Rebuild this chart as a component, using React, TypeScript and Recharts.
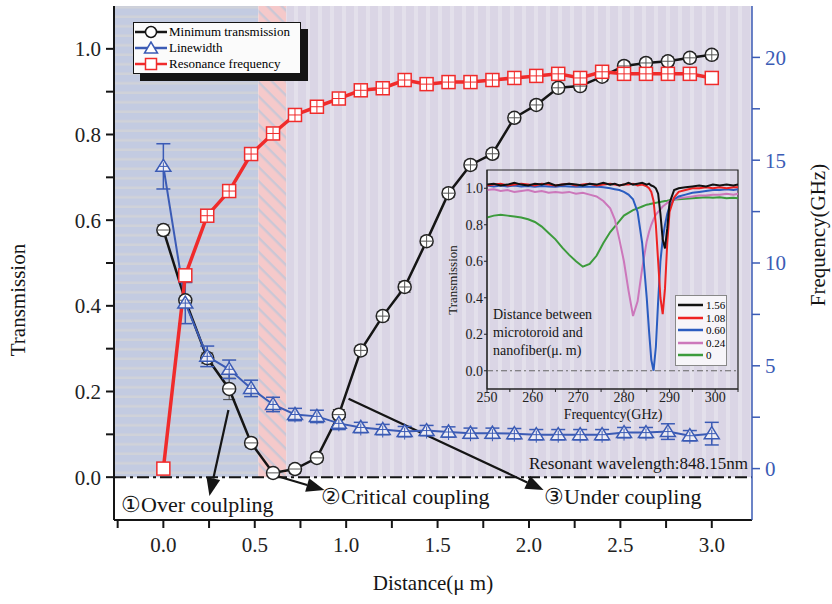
import React from 'react';
import {
  ComposedChart,
  LineChart,
  Line,
  XAxis,
  YAxis,
  ReferenceArea,
  ReferenceLine,
  ErrorBar,
} from 'recharts';

const SERIF = '"Liberation Serif", "DejaVu Serif", serif';
const INK = '#151515';
const BLUE = '#3b5bb5';
const RED = '#f02b2b';

/* main chart data */
const distance = [0, 0.12, 0.24, 0.36, 0.48, 0.6, 0.72, 0.84, 0.96, 1.08, 1.2, 1.32, 1.44, 1.56, 1.68, 1.8, 1.92, 2.04, 2.16, 2.28, 2.4, 2.52, 2.64, 2.76, 2.88, 3.0];
const minTransmission = [0.577, 0.413, 0.278, 0.206, 0.08, 0.01, 0.019, 0.045, 0.146, 0.296, 0.376, 0.444, 0.551, 0.663, 0.729, 0.755, 0.839, 0.869, 0.909, 0.913, 0.935, 0.96, 0.967, 0.971, 0.979, 0.986];
const transErr = [0.012, 0.01, 0.012, 0.025, 0.01, 0.008, 0.01, 0.01, 0.012, 0.01, 0.01, 0.012, 0.01, 0.01, 0.01, 0.01, 0.01, 0.01, 0.01, 0.01, 0.01, 0.01, 0.01, 0.01, 0.01, 0.01];
const linewidth = [14.7, 8.05, 5.46, 4.83, 3.9, 3.12, 2.63, 2.54, 2.2, 2.0, 1.9, 1.8, 1.85, 1.78, 1.72, 1.72, 1.7, 1.65, 1.65, 1.65, 1.65, 1.75, 1.75, 1.8, 1.6, 1.7];
const linewidthErr = [1.1, 1.0, 0.5, 0.45, 0.4, 0.35, 0.3, 0.3, 0.3, 0.25, 0.25, 0.25, 0.25, 0.25, 0.25, 0.25, 0.25, 0.25, 0.25, 0.25, 0.25, 0.25, 0.25, 0.38, 0.25, 0.55];
const resonanceFreq = [0, 9.4, 12.3, 13.5, 15.3, 16.3, 17.2, 17.6, 18.0, 18.4, 18.5, 18.9, 18.7, 18.8, 18.8, 18.9, 19.0, 19.1, 19.2, 19.0, 19.3, 19.2, 19.2, 19.2, 19.2, 19.0];

const xTicks = [-0.25, 0, 0.25, 0.5, 0.75, 1, 1.25, 1.5, 1.75, 2, 2.25, 2.5, 2.75, 3];
const xLabels = [0, 0.5, 1, 1.5, 2, 2.5, 3];
const leftTicks = [0, 0.1, 0.2, 0.3, 0.4, 0.5, 0.6, 0.7, 0.8, 0.9, 1.0];
const leftLabels = [0, 0.2, 0.4, 0.6, 0.8, 1.0];
const rightTicks = [0, 2.5, 5, 7.5, 10, 12.5, 15, 17.5, 20];
const rightLabels = [0, 5, 10, 15, 20];

// coupling regimes (distance, µm)
const regimeBounds = [-0.27, 0.52, 0.673, 3.22];
const regimeFills = ['url(#bgOver)', 'url(#bgCritical)', 'url(#bgUnder)'];

// annotation arrows in data coords (left axis)
const arrowFrom = [{ x: 0.356, y: 0.157 }, { x: 0.602, y: 0.005 }, { x: 1.013, y: 0.183 }];
const arrowTo = [{ x: 0.252, y: -0.044 }, { x: 0.881, y: -0.03 }, { x: 2.08, y: -0.03 }];

const rows = distance.map((d, i) => ({
  d,
  t: minTransmission[i],
  tErr: transErr[i],
  lw: linewidth[i],
  lwErr: linewidthErr[i],
  rf: resonanceFreq[i],
}));

/* inset data */
const freq = [250, 251.5, 253, 254.5, 256, 257.5, 259, 260.5, 262, 263.5, 265, 266.5, 268, 269.5, 271, 272.5, 274, 275.5, 277, 278, 279, 280, 281, 282, 283, 284, 285, 285.5, 286, 286.5, 287, 287.5, 288, 288.5, 289, 289.5, 290, 291, 292, 293.5, 295, 296.5, 298, 299.5, 301, 302.5, 304, 305];
const t156 = [1.02, 1.025, 1.015, 1.02, 1.03, 1.02, 1.015, 1.025, 1.02, 1.03, 1.015, 1.02, 1.025, 1.02, 1.015, 1.025, 1.02, 1.03, 1.02, 1.025, 1.015, 1.02, 1.03, 1.02, 1.025, 1.03, 1.02, 1.025, 1.015, 1.01, 1.0, 0.97, 0.86, 0.72, 0.67, 0.78, 0.92, 0.99, 1.0, 1.005, 1.01, 1.015, 1.01, 1.02, 1.015, 1.02, 1.015, 1.02];
const t108 = [1.015, 1.02, 1.025, 1.015, 1.02, 1.025, 1.02, 1.015, 1.025, 1.02, 1.015, 1.02, 1.025, 1.015, 1.02, 1.025, 1.015, 1.02, 1.025, 1.02, 1.015, 1.02, 1.02, 1.025, 1.015, 1.02, 1.01, 1.0, 0.98, 0.93, 0.8, 0.6, 0.4, 0.31, 0.45, 0.7, 0.87, 0.95, 0.98, 0.99, 1.0, 1.0, 1.005, 1.0, 1.005, 1.0, 1.005, 1.005];
const t060 = [1.015, 1.01, 1.015, 1.01, 1.015, 1.01, 1.012, 1.008, 1.012, 1.01, 1.008, 1.012, 1.01, 1.008, 1.01, 1.008, 1.01, 1.005, 1.0, 0.995, 0.99, 0.98, 0.965, 0.94, 0.87, 0.7, 0.4, 0.22, 0.06, 0.0, 0.13, 0.38, 0.6, 0.72, 0.8, 0.86, 0.9, 0.94, 0.955, 0.965, 0.975, 0.98, 0.985, 0.99, 0.99, 0.995, 0.99, 0.995];
const t024 = [0.99, 0.995, 0.985, 0.99, 0.98, 0.985, 0.99, 0.98, 0.985, 0.975, 0.98, 0.975, 0.98, 0.97, 0.975, 0.965, 0.955, 0.93, 0.89, 0.83, 0.72, 0.6, 0.44, 0.3, 0.38, 0.56, 0.71, 0.76, 0.8, 0.83, 0.855, 0.87, 0.885, 0.9, 0.91, 0.92, 0.93, 0.94, 0.945, 0.95, 0.955, 0.96, 0.96, 0.965, 0.965, 0.97, 0.965, 0.97];
const t000 = [0.84, 0.85, 0.855, 0.85, 0.845, 0.84, 0.83, 0.815, 0.79, 0.755, 0.72, 0.675, 0.635, 0.6, 0.57, 0.585, 0.63, 0.7, 0.76, 0.79, 0.82, 0.85, 0.865, 0.88, 0.89, 0.9, 0.91, 0.912, 0.915, 0.918, 0.92, 0.923, 0.925, 0.928, 0.93, 0.932, 0.935, 0.938, 0.94, 0.942, 0.945, 0.948, 0.95, 0.948, 0.95, 0.945, 0.948, 0.945];

const insetSeries = [
  { key: 's000', label: '0', color: '#3c9b3c', values: t000 },
  { key: 's024', label: '0.24', color: '#cc77bb', values: t024 },
  { key: 's060', label: '0.60', color: '#2a5cc0', values: t060 },
  { key: 's108', label: '1.08', color: '#ee2222', values: t108 },
  { key: 's156', label: '1.56', color: '#111111', values: t156 },
];
const insetRows = freq.map((f, i) => {
  const r: Record<string, number> = { f };
  insetSeries.forEach((s) => (r[s.key] = s.values[i]));
  return r;
});
const insetXTicks = [250, 255, 260, 265, 270, 275, 280, 285, 290, 295, 300, 305];
const insetXLabels = [250, 260, 270, 280, 290, 300];
const insetYTicks = [0, 0.2, 0.4, 0.6, 0.8, 1.0];

const legendItems = [
  { label: 'Minimum transmission', color: INK, marker: 'circle' },
  { label: 'Linewidth', color: BLUE, marker: 'triangle' },
  { label: 'Resonance frequency', color: RED, marker: 'square' },
];

const has = (list: number[], v: number) => list.some((x) => Math.abs(x - v) < 1e-6);

function CircleDot(p: any) {
  const { cx, cy, index } = p;
  if (cx == null || cy == null) return null;
  return (
    <g>
      <circle cx={cx} cy={cy} r={6.5} fill="#fff" stroke="#222" strokeWidth={1.5} />
      <line x1={cx - 6} x2={cx + 6} y1={cy} y2={cy} stroke="#555" strokeWidth={1} />
      {index >= 9 && <line x1={cx} x2={cx} y1={cy - 6} y2={cy + 6} stroke="#555" strokeWidth={1} />}
    </g>
  );
}

function TriangleDot(p: any) {
  const { cx, cy } = p;
  if (cx == null || cy == null) return null;
  return (
    <g>
      <polygon
        points={`${cx},${cy - 7} ${cx - 7.5},${cy + 5} ${cx + 7.5},${cy + 5}`}
        fill="#eeedf4"
        stroke={BLUE}
        strokeWidth={1.5}
      />
      <line x1={cx} x2={cx} y1={cy - 4} y2={cy + 8} stroke={BLUE} strokeWidth={1} />
      <line x1={cx - 4} x2={cx + 4} y1={cy} y2={cy} stroke={BLUE} strokeWidth={1} />
    </g>
  );
}

function SquareDot(p: any) {
  const { cx, cy, index } = p;
  if (cx == null || cy == null) return null;
  return (
    <g>
      <rect x={cx - 6.5} y={cy - 6.5} width={13} height={13} fill="#fff" stroke={RED} strokeWidth={1.5} />
      {index >= 2 && index < 25 && (
        <>
          <line x1={cx - 6} x2={cx + 6} y1={cy} y2={cy} stroke={RED} strokeWidth={1} />
          <line x1={cx} x2={cx} y1={cy - 6} y2={cy + 6} stroke={RED} strokeWidth={1} />
        </>
      )}
    </g>
  );
}

function Arrow(p: any) {
  const { x1, y1, x2, y2 } = p;
  if ([x1, y1, x2, y2].some((v) => v == null || Number.isNaN(v))) return null;
  const a = Math.atan2(y2 - y1, x2 - x1);
  const L = 18;
  const W = 7;
  const bx = x2 - L * Math.cos(a);
  const by = y2 - L * Math.sin(a);
  const s = Math.sin(a);
  const c = Math.cos(a);
  return (
    <g>
      <line x1={x1} y1={y1} x2={bx} y2={by} stroke={INK} strokeWidth={2.2} />
      <polygon points={`${x2},${y2} ${bx + W * s},${by - W * c} ${bx - W * s},${by + W * c}`} fill={INK} />
    </g>
  );
}

function MarkerIcon({ marker, color }: { marker: string; color: string }) {
  return (
    <svg width={34} height={14} style={{ flex: 'none' }}>
      <line x1={1} x2={33} y1={7} y2={7} stroke={color} strokeWidth={2.5} />
      {marker === 'circle' && <circle cx={17} cy={7} r={5.5} fill="#fff" stroke={color} strokeWidth={1.5} />}
      {marker === 'triangle' && <polygon points="17,1 10.5,12 23.5,12" fill="#fff" stroke={color} strokeWidth={1.5} />}
      {marker === 'square' && <rect x={11.5} y={1.5} width={11} height={11} fill="#fff" stroke={color} strokeWidth={1.5} />}
    </svg>
  );
}

function Txt({ x, y, size, children, center, right, rotate, color = INK }: any) {
  const tx = center ? '-50%' : right ? '-100%' : '0';
  return (
    <div
      style={{
        position: 'absolute',
        left: x,
        top: y,
        fontSize: size,
        lineHeight: 1,
        whiteSpace: 'nowrap',
        color,
        transform: `translate(${tx}, -50%)${rotate ? ` rotate(${rotate}deg)` : ''}`,
        transformOrigin: center ? 'center' : 'left center',
      }}
    >
      {children}
    </div>
  );
}

function Inset() {
  return (
    <div style={{ position: 'absolute', left: 440, top: 165 }}>
      <LineChart width={310} height={260} data={insetRows} margin={{ top: 5, right: 12, bottom: 0, left: 0 }}>
        <XAxis
          type="number"
          dataKey="f"
          domain={[250, 305]}
          allowDataOverflow
          ticks={insetXTicks}
          tickFormatter={(v: number) => (has(insetXLabels, v) ? String(v) : '')}
          height={36}
          stroke="#222"
          tickSize={3}
          tickMargin={0}
          tick={{ fill: '#222', fontSize: 14, fontFamily: SERIF }}
        />
        <YAxis
          type="number"
          domain={[-0.1, 1.1]}
          allowDataOverflow
          ticks={insetYTicks}
          tickFormatter={(v: number) => v.toFixed(1)}
          width={47}
          stroke="#222"
          tickSize={3}
          tickMargin={1}
          tick={{ fill: '#222', fontSize: 14, fontFamily: SERIF }}
        />
        <ReferenceArea x1={250} x2={305} y1={-0.1} y2={1.1} fill="none" stroke="#222" strokeWidth={1.2} />
        <ReferenceLine y={0} stroke="#666" strokeWidth={1} strokeDasharray="6 3 2 3" />
        {insetSeries.map((s) => (
          <Line
            key={s.key}
            type="linear"
            dataKey={s.key}
            stroke={s.color}
            strokeWidth={2}
            dot={false}
            activeDot={false}
            isAnimationActive={false}
          />
        ))}
      </LineChart>
      <Txt x={12} y={115} size={13} center rotate={-90}>Transmission</Txt>
      <Txt x={173} y={250} size={14} center>Frequentcy(GHz)</Txt>
      <div style={{ position: 'absolute', left: 53, top: 141, fontSize: 14, lineHeight: '18px', color: INK }}>
        Distance between
        <br />
        microtoroid and
        <br />
        nanofiber(μ. m)
      </div>
      <div
        style={{
          position: 'absolute',
          left: 235,
          top: 130,
          width: 50,
          padding: '3px 0',
          background: '#f7f5f9',
          border: '1px solid #888',
          fontSize: 11,
          lineHeight: '12.5px',
        }}
      >
        {[...insetSeries].reverse().map((s) => (
          <div key={s.key} style={{ display: 'flex', alignItems: 'center', gap: 2 }}>
            <svg width={28} height={6} style={{ flex: 'none' }}>
              <line x1={2} x2={27} y1={3} y2={3} stroke={s.color} strokeWidth={2.5} />
            </svg>
            <span>{s.label}</span>
          </div>
        ))}
      </div>
    </div>
  );
}

export default function App() {
  return (
    <div
      style={{
        position: 'absolute',
        left: 0,
        top: 0,
        width: 832,
        height: 604,
        background: '#fff',
        fontFamily: SERIF,
        overflow: 'hidden',
      }}
    >
      <ComposedChart width={832} height={604} data={rows} margin={{ top: 6, right: 0, bottom: 0, left: 0 }}>
        <defs>
          <pattern id="bgOver" width="10" height="9.5" patternUnits="userSpaceOnUse">
            <rect width="10" height="9.5" fill="#c3cbe1" />
            <rect y="6" width="10" height="2.6" fill="#d0d2d9" />
          </pattern>
          <pattern id="bgCritical" width="10" height="10" patternUnits="userSpaceOnUse" patternTransform="rotate(45)">
            <rect width="10" height="10" fill="#f5c9ca" />
            <rect y="4" width="10" height="2.4" fill="#cbc7d5" />
          </pattern>
          <pattern id="bgUnder" width="12" height="10" patternUnits="userSpaceOnUse">
            <rect width="12" height="10" fill="#dad5e5" />
            <rect x="6" width="4" height="10" fill="#e3e0eb" />
          </pattern>
        </defs>
        <XAxis
          xAxisId="b"
          type="number"
          dataKey="d"
          domain={[-0.27, 3.22]}
          allowDataOverflow
          ticks={xTicks}
          tickFormatter={(v: number) => (has(xLabels, v) ? v.toFixed(1) : '')}
          height={84}
          stroke={INK}
          strokeWidth={2}
          tickSize={8}
          tickMargin={9}
          tick={{ fill: '#222', fontSize: 21, fontFamily: SERIF }}
        />
        <XAxis
          xAxisId="t"
          orientation="top"
          type="number"
          dataKey="d"
          domain={[-0.27, 3.22]}
          allowDataOverflow
          ticks={xTicks}
          tickFormatter={() => ''}
          height={0}
          mirror
          stroke={INK}
          strokeWidth={2}
          tickSize={8}
        />
        <YAxis
          yAxisId="l"
          type="number"
          domain={[-0.1, 1.1]}
          allowDataOverflow
          ticks={leftTicks}
          tickFormatter={(v: number) => (has(leftLabels, v) ? v.toFixed(1) : '')}
          width={114}
          stroke={INK}
          strokeWidth={2}
          tickSize={8}
          tickMargin={5}
          tick={{ fill: '#222', fontSize: 21, fontFamily: SERIF }}
        />
        <YAxis
          yAxisId="r"
          orientation="right"
          type="number"
          domain={[-2.5, 22.5]}
          allowDataOverflow
          ticks={rightTicks}
          tickFormatter={(v: number) => (has(rightLabels, v) ? String(v) : '')}
          width={80}
          stroke={BLUE}
          strokeWidth={1.5}
          tickSize={8}
          tickMargin={5}
          tick={{ fill: BLUE, fontSize: 21, fontFamily: SERIF }}
        />
        {regimeFills.map((fill, i) => (
          <ReferenceArea
            key={fill}
            xAxisId="b"
            yAxisId="l"
            x1={regimeBounds[i]}
            x2={regimeBounds[i + 1]}
            y1={0}
            y2={1.1}
            fill={fill}
            fillOpacity={1}
            stroke="none"
          />
        ))}
        <ReferenceLine xAxisId="b" yAxisId="l" y={0} stroke={INK} strokeWidth={2} strokeDasharray="12 4 3 4" />
        {arrowFrom.map((a, i) => (
          <ReferenceLine
            key={i}
            xAxisId="b"
            yAxisId="l"
            segment={[a, arrowTo[i]]}
            ifOverflow="visible"
            shape={(p: any) => <Arrow {...p} />}
          />
        ))}
        <Line
          xAxisId="b"
          yAxisId="l"
          type="linear"
          dataKey="t"
          stroke={INK}
          strokeWidth={2.5}
          dot={(p: any) => <CircleDot key={`c${p.index}`} {...p} />}
          activeDot={false}
          isAnimationActive={false}
        >
          <ErrorBar dataKey="tErr" width={6} stroke="#444" strokeWidth={1} direction="y" />
        </Line>
        <Line
          xAxisId="b"
          yAxisId="r"
          type="linear"
          dataKey="lw"
          stroke={BLUE}
          strokeWidth={2}
          dot={(p: any) => <TriangleDot key={`t${p.index}`} {...p} />}
          activeDot={false}
          isAnimationActive={false}
        >
          <ErrorBar dataKey="lwErr" width={7} stroke={BLUE} strokeWidth={1.5} direction="y" />
        </Line>
        <Line
          xAxisId="b"
          yAxisId="r"
          type="linear"
          dataKey="rf"
          stroke={RED}
          strokeWidth={3.5}
          dot={(p: any) => <SquareDot key={`s${p.index}`} {...p} />}
          activeDot={false}
          isAnimationActive={false}
        />
      </ComposedChart>

      <Inset />

      <div
        style={{
          position: 'absolute',
          left: 133,
          top: 22,
          width: 166,
          height: 49,
          background: '#fbfbfb',
          border: `1.5px solid ${INK}`,
          boxShadow: `7px 7px 0 ${INK}`,
          fontSize: 13,
          lineHeight: '16px',
          paddingTop: 1,
        }}
      >
        {legendItems.map((it) => (
          <div key={it.label} style={{ display: 'flex', alignItems: 'center', gap: 1 }}>
            <MarkerIcon marker={it.marker} color={it.color} />
            <span>{it.label}</span>
          </div>
        ))}
      </div>

      <Txt x={18} y={300} size={21} center rotate={-90}>Transmission</Txt>
      <Txt x={818} y={235} size={21} center rotate={-90}>Frequency(GHz)</Txt>
      <Txt x={433} y={583} size={21} center>Distance(μ m)</Txt>
      <Txt x={748} y={463} size={17} right>Resonant wavelength:848.15nm</Txt>
      <Txt x={121} y={505} size={22}>①Over coulpling</Txt>
      <Txt x={321} y={497} size={22}>②Critical coupling</Txt>
      <Txt x={544} y={497} size={22}>③Under coupling</Txt>
    </div>
  );
}
